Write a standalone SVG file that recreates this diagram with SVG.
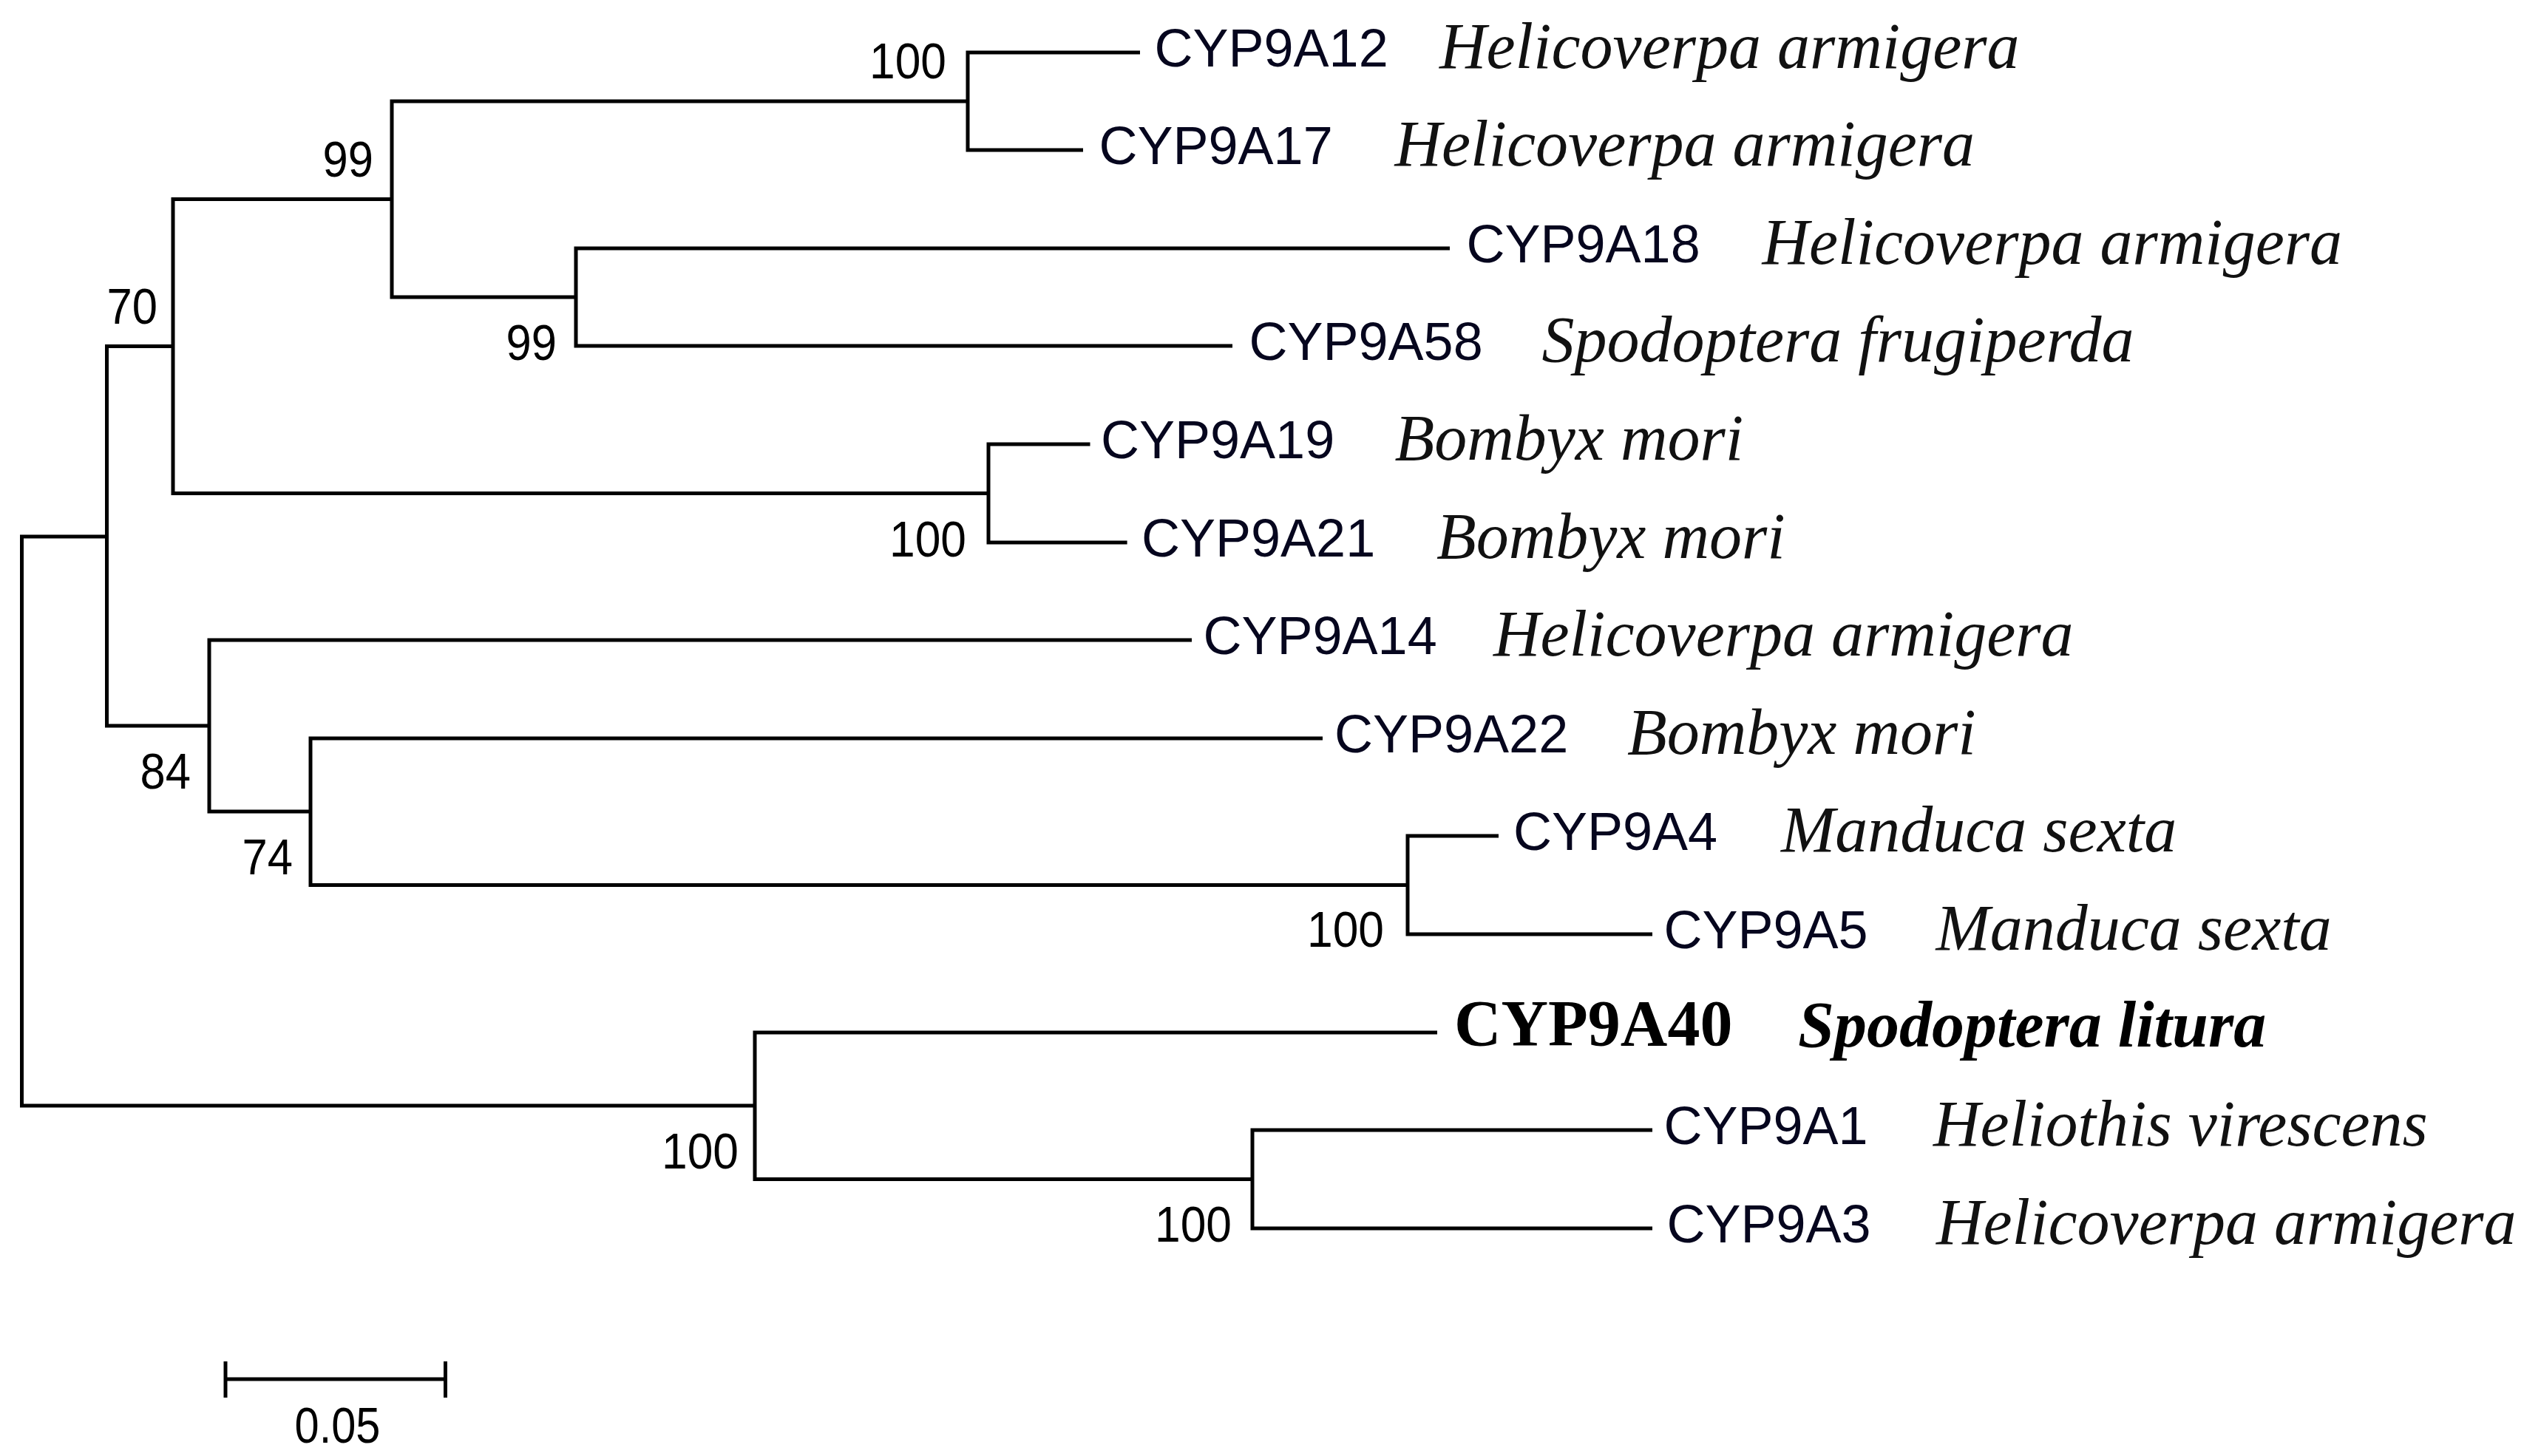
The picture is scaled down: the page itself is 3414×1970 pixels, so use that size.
<svg xmlns="http://www.w3.org/2000/svg" width="3414" height="1970" viewBox="0 0 3414 1970">
<style>
.br{fill:none;stroke:#000;stroke-width:5;stroke-linejoin:miter;stroke-linecap:butt}
.id{font-family:"Liberation Sans",Arial,sans-serif;font-size:72px;fill:#06061e}
.sp{font-family:"Liberation Serif","Times New Roman",serif;font-size:88px;font-style:italic;fill:#111}
.idb{font-family:"Liberation Serif","Times New Roman",serif;font-size:88px;font-weight:bold;fill:#000}
.spb{font-family:"Liberation Serif","Times New Roman",serif;font-size:88px;font-weight:bold;font-style:italic;fill:#000}
.bs{font-family:"Liberation Sans",Arial,sans-serif;font-size:68px;fill:#000}
</style>
<rect width="3414" height="1970" fill="#fff"/>
<g id="connectors" class="br">
<path d="M1542 71 H1309 V203 H1465"/>
<path d="M1961 336 H779 V468 H1667"/>
<path d="M1309 137 H530 V402 H779"/>
<path d="M1474.5 601 H1337 V734 H1524.6"/>
<path d="M530 269.5 H234 V667.5 H1337"/>
<path d="M2027 1131 H1904 V1264 H2235"/>
<path d="M1789 999 H420 V1197.5 H1904"/>
<path d="M1612 866 H283 V1098 H420"/>
<path d="M234 468.5 H144.5 V982 H283"/>
<path d="M2235 1529 H1694 V1662 H2235"/>
<path d="M1944 1397 H1021 V1595.5 H1694"/>
<path d="M144.5 726 H29.5 V1496 H1021"/>
</g>
<g id="leaf-CYP9A12"><text class="id" x="1561.5" y="90">CYP9A12</text><text class="sp" x="1947" y="92">Helicoverpa armigera</text></g>
<g id="leaf-CYP9A17"><text class="id" x="1486.5" y="222">CYP9A17</text><text class="sp" x="1886.5" y="224">Helicoverpa armigera</text></g>
<g id="leaf-CYP9A18"><text class="id" x="1983.5" y="355">CYP9A18</text><text class="sp" x="2383.5" y="357">Helicoverpa armigera</text></g>
<g id="leaf-CYP9A58"><text class="id" x="1689.5" y="487">CYP9A58</text><text class="sp" x="2085.5" y="489">Spodoptera frugiperda</text></g>
<g id="leaf-CYP9A19"><text class="id" x="1489" y="620">CYP9A19</text><text class="sp" x="1886.5" y="622">Bombyx mori</text></g>
<g id="leaf-CYP9A21"><text class="id" x="1544" y="753">CYP9A21</text><text class="sp" x="1943" y="755">Bombyx mori</text></g>
<g id="leaf-CYP9A14"><text class="id" x="1627.5" y="885">CYP9A14</text><text class="sp" x="2020" y="887">Helicoverpa armigera</text></g>
<g id="leaf-CYP9A22"><text class="id" x="1805" y="1018">CYP9A22</text><text class="sp" x="2201" y="1020">Bombyx mori</text></g>
<g id="leaf-CYP9A4"><text class="id" x="2047" y="1150">CYP9A4</text><text class="sp" x="2409" y="1152">Manduca sexta</text></g>
<g id="leaf-CYP9A5"><text class="id" x="2250.5" y="1283">CYP9A5</text><text class="sp" x="2618.5" y="1285">Manduca sexta</text></g>
<g id="leaf-CYP9A40"><text class="idb" x="1967" y="1414">CYP9A40</text><text class="spb" x="2432" y="1416">Spodoptera litura</text></g>
<g id="leaf-CYP9A1"><text class="id" x="2250.5" y="1548">CYP9A1</text><text class="sp" x="2615" y="1550">Heliothis virescens</text></g>
<g id="leaf-CYP9A3"><text class="id" x="2254.5" y="1681">CYP9A3</text><text class="sp" x="2619" y="1683">Helicoverpa armigera</text></g>
<g id="node-A"><text class="bs" x="1176" y="106" textLength="104" lengthAdjust="spacingAndGlyphs">100</text></g>
<g id="node-C"><text class="bs" x="436.4" y="239" textLength="68.5" lengthAdjust="spacingAndGlyphs">99</text></g>
<g id="node-E"><text class="bs" x="144.4" y="438" textLength="68.5" lengthAdjust="spacingAndGlyphs">70</text></g>
<g id="node-B"><text class="bs" x="684.4" y="487" textLength="68.5" lengthAdjust="spacingAndGlyphs">99</text></g>
<g id="node-D"><text class="bs" x="1203" y="753" textLength="104" lengthAdjust="spacingAndGlyphs">100</text></g>
<g id="node-H"><text class="bs" x="189.4" y="1067" textLength="68.5" lengthAdjust="spacingAndGlyphs">84</text></g>
<g id="node-G"><text class="bs" x="327.4" y="1183" textLength="68.5" lengthAdjust="spacingAndGlyphs">74</text></g>
<g id="node-F"><text class="bs" x="1768" y="1281" textLength="104" lengthAdjust="spacingAndGlyphs">100</text></g>
<g id="node-K"><text class="bs" x="895" y="1581" textLength="104" lengthAdjust="spacingAndGlyphs">100</text></g>
<g id="node-J"><text class="bs" x="1562" y="1680" textLength="104" lengthAdjust="spacingAndGlyphs">100</text></g>
<g id="scale-bar">
<path class="br" d="M305 1866 H602.5 M305 1842 V1891 M602.5 1842 V1891"/>
<text class="bs" x="398.5" y="1951.5" textLength="116" lengthAdjust="spacingAndGlyphs">0.05</text>
</g>
</svg>
